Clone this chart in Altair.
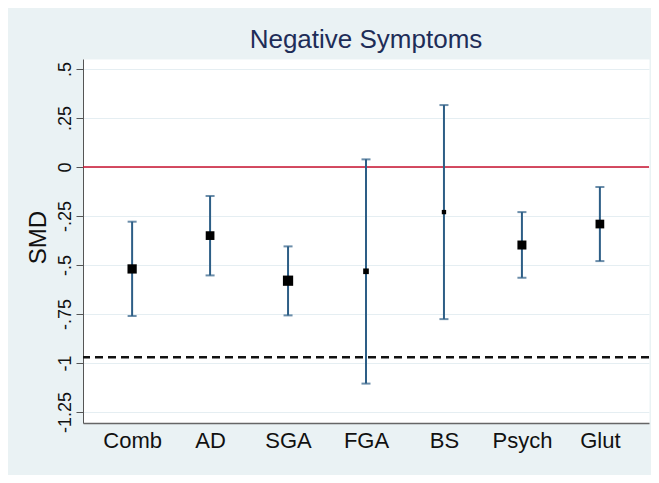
import altair as alt
import pandas as pd

# ---- data ----
categories = ["Comb", "AD", "SGA", "FGA", "BS", "Psych", "Glut"]
smd = [-0.520, -0.350, -0.580, -0.532, -0.230, -0.398, -0.291]
ci_lower = [-0.760, -0.553, -0.757, -1.105, -0.776, -0.565, -0.480]
ci_upper = [-0.279, -0.148, -0.405, 0.039, 0.316, -0.230, -0.102]
weight = [86, 76, 105, 32, 19, 81, 76]

null_line = [0.0]
threshold_line = [-0.97]

tick_values = [0.5, 0.25, 0, -0.25, -0.5, -0.75, -1, -1.25]
tick_labels = [".5", ".25", "0", "-.25", "-.5", "-.75", "-1", "-1.25"]

df = pd.DataFrame({
    "group": categories,
    "smd": smd,
    "lo": ci_lower,
    "hi": ci_upper,
    "w": weight,
})

label_expr = " : ".join(
    f"datum.value == {v} ? '{t}'" for v, t in zip(tick_values, tick_labels)
) + " : ''"

FONT = "Liberation Sans"
BAR = "#2d5e86"

x_enc = alt.X(
    "group:N",
    sort=categories,
    scale=alt.Scale(type="point", padding=0.63),
    axis=alt.Axis(
        title=None, labelAngle=0, ticks=False, grid=False,
        labelFontSize=22, labelColor="#111111", labelFont=FONT,
        labelPadding=7, labelBaseline="top",
        domainColor="#666666", domainWidth=1.5,
    ),
)

y_scale = alt.Scale(domain=[-1.306, 0.551], nice=False, zero=False)
y_axis = alt.Axis(
    title="SMD", values=tick_values, labelExpr=label_expr,
    labelAngle=270, labelAlign="center", labelBaseline="alphabetic",
    labelFontSize=18, labelFont=FONT, labelColor="#111111", labelPadding=6,
    tickSize=7, tickColor="#555555", domainColor="#555555",
    grid=True, gridColor="#e5eef2", gridWidth=1,
    titleFontSize=24, titleFont=FONT, titleFontWeight="normal",
    titleColor="#111111", titleAngle=270, titleAlign="center",
    titleBaseline="alphabetic", titleX=-38, titleY=178,
)

base = alt.Chart(df)

bars = base.mark_rule(color=BAR, strokeWidth=2).encode(
    x=x_enc,
    y=alt.Y("lo:Q", scale=y_scale, axis=y_axis),
    y2="hi:Q",
)
caps_lo = base.mark_tick(color=BAR, thickness=2, size=9, orient="horizontal").encode(
    x=x_enc, y=alt.Y("lo:Q", scale=y_scale)
)
caps_hi = base.mark_tick(color=BAR, thickness=2, size=9, orient="horizontal").encode(
    x=x_enc, y=alt.Y("hi:Q", scale=y_scale)
)
points = base.mark_square(color="black", opacity=1, filled=True).encode(
    x=x_enc,
    y=alt.Y("smd:Q", scale=y_scale),
    size=alt.Size("w:Q", scale=alt.Scale(domain=[0, 100], range=[0, 100], zero=True), legend=None),
)

zero_rule = alt.Chart(pd.DataFrame({"v": null_line})).mark_rule(
    color="#c8102e", strokeWidth=1.5
).encode(y=alt.Y("v:Q", scale=y_scale))

dash_rule = alt.Chart(pd.DataFrame({"v": threshold_line})).mark_rule(
    color="#111111", strokeWidth=2.5, strokeDash=[8, 5]
).encode(y=alt.Y("v:Q", scale=y_scale))

chart = alt.layer(zero_rule, dash_rule, bars, caps_lo, caps_hi, points).properties(
    width=566,
    height=364,
    title=alt.TitleParams(
        text="Negative Symptoms", fontSize=26, font=FONT, fontWeight="normal",
        color="#1e2d58", anchor="middle", frame="group",
        baseline="alphabetic", offset=8, dy=23,
    ),
    autosize=alt.AutoSizeParams(type="none"),
    padding={"left": 75, "top": 51, "right": 2, "bottom": 52},
    background="#eaf2f4",
).configure_view(fill="white", stroke="transparent")

chart.save("out.html", embed_options={"renderer": "svg", "actions": False})
